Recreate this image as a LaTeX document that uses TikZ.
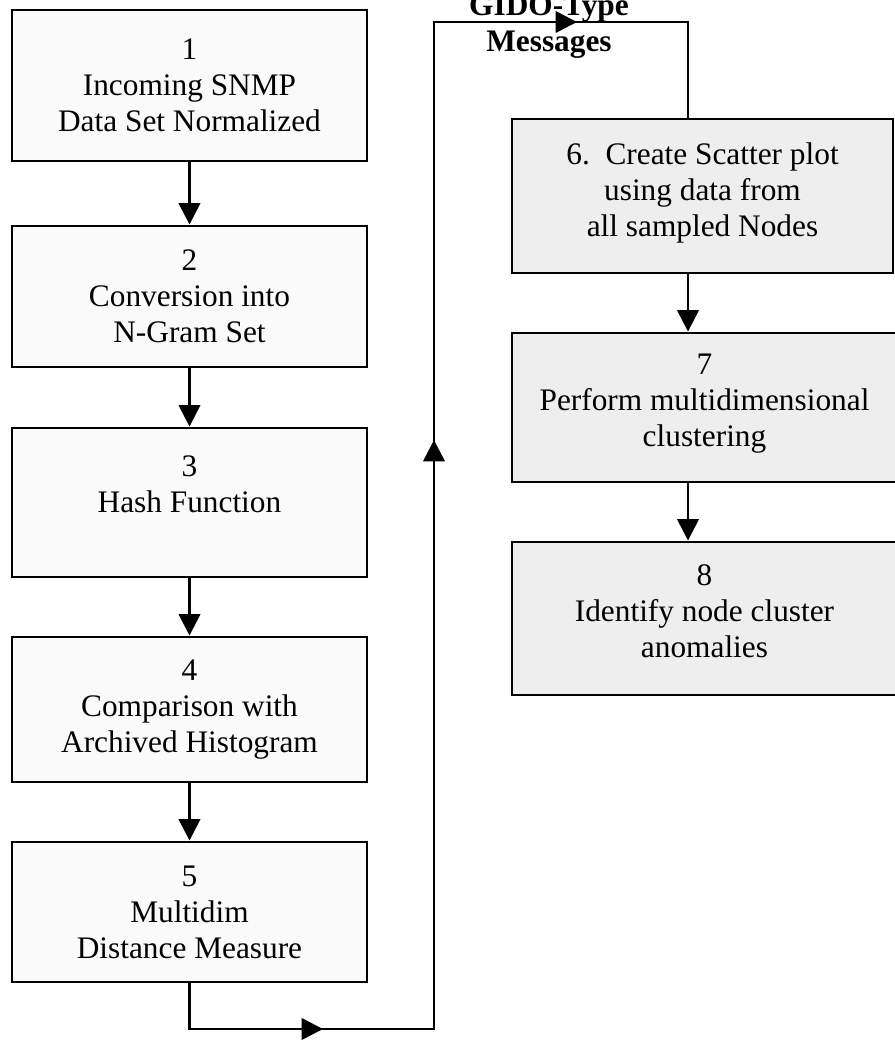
\documentclass[tikz,border=0pt]{standalone}
\usepackage{fontspec}
\setmainfont{Liberation Serif}
\usetikzlibrary{arrows.meta}
\begin{document}
\begin{tikzpicture}[x=0.75pt,y=-0.75pt,
  every node/.style={font=\fontsize{23.5}{27}\selectfont, align=center},
  stepbox/.style 2 args={draw, line width=2.2pt, inner sep=0pt,
    minimum width=#1*0.75pt, minimum height=#2*0.75pt},
  leftbox/.style 2 args={stepbox={#1}{#2}, fill=gray!4},
  rightbox/.style 2 args={stepbox={#1}{#2}, fill=gray!13},
  conn/.style={line width=1.9pt, line join=miter},
  tip/.style={conn, -{Triangle[width=16pt,length=16pt]}},
]
\useasboundingbox (0,0) rectangle (895,1040);

% left column: steps 1 to 5
\node[leftbox={355}{151}] (b1) at (189.5,85.5) {1\\Incoming SNMP\\Data Set Normalized};
\node[leftbox={355}{141}] (b2) at (189.5,296.5) {2\\Conversion into\\N-Gram Set};
\node[leftbox={355}{149}] (b3) at (189.5,502.5) {3\\Hash Function\\\mbox{}};
\node[leftbox={355}{145}] (b4) at (189.5,709.5) {4\\Comparison with\\Archived Histogram};
\node[leftbox={355}{140}] (b5) at (189.5,912) {5\\Multidim\\Distance Measure};

% right column: steps 6 to 8 (text sits a little above the middle)
\node[rightbox={381}{154}] (b6) at (702.5,196) {6.\enspace Create Scatter plot\\using data from\\all sampled Nodes\\[-18pt]\mbox{}};
\node[rightbox={385}{149}] (b7) at (704.5,407.5) {7\\Perform multidimensional\\clustering\\[-16.5pt]\mbox{}};
\node[rightbox={385}{153}] (b8) at (704.5,618.5) {8\\Identify node cluster\\anomalies\\[-16.5pt]\mbox{}};

% loop label
\node[font=\bfseries\fontsize{23.5}{27}\selectfont] (msg) at (549,27) {GIDO-Type\\Messages};

% left column arrows
\draw[tip] (b1.south) -- (b2.north);
\draw[tip] (b2.south) -- (b3.north);
\draw[tip] (b3.south) -- (b4.north);
\draw[tip] (b4.south) -- (b5.north);

% loop from step 5 round to step 6
\coordinate (lb) at (189.5,1029);
\coordinate (rb) at (434,1029);
\coordinate (rt) at (434,22);
\coordinate (tt) at (688,22);
\coordinate (m1) at (323,1029);
\coordinate (m2) at (434,440);
\coordinate (m3) at (577,22);
\draw[conn] (b5.south) -- (lb) -- (rb) -- (rt) -- (tt) -- (tt |- b6.north);
\draw[tip] (lb) -- (m1);
\draw[tip] (rb) -- (m2);
\draw[tip] (rt) -- (m3);

% right column arrows
\draw[tip] (b6.south -| tt) -- (b7.north -| tt);
\draw[tip] (b7.south -| tt) -- (b8.north -| tt);
\end{tikzpicture}
\end{document}
